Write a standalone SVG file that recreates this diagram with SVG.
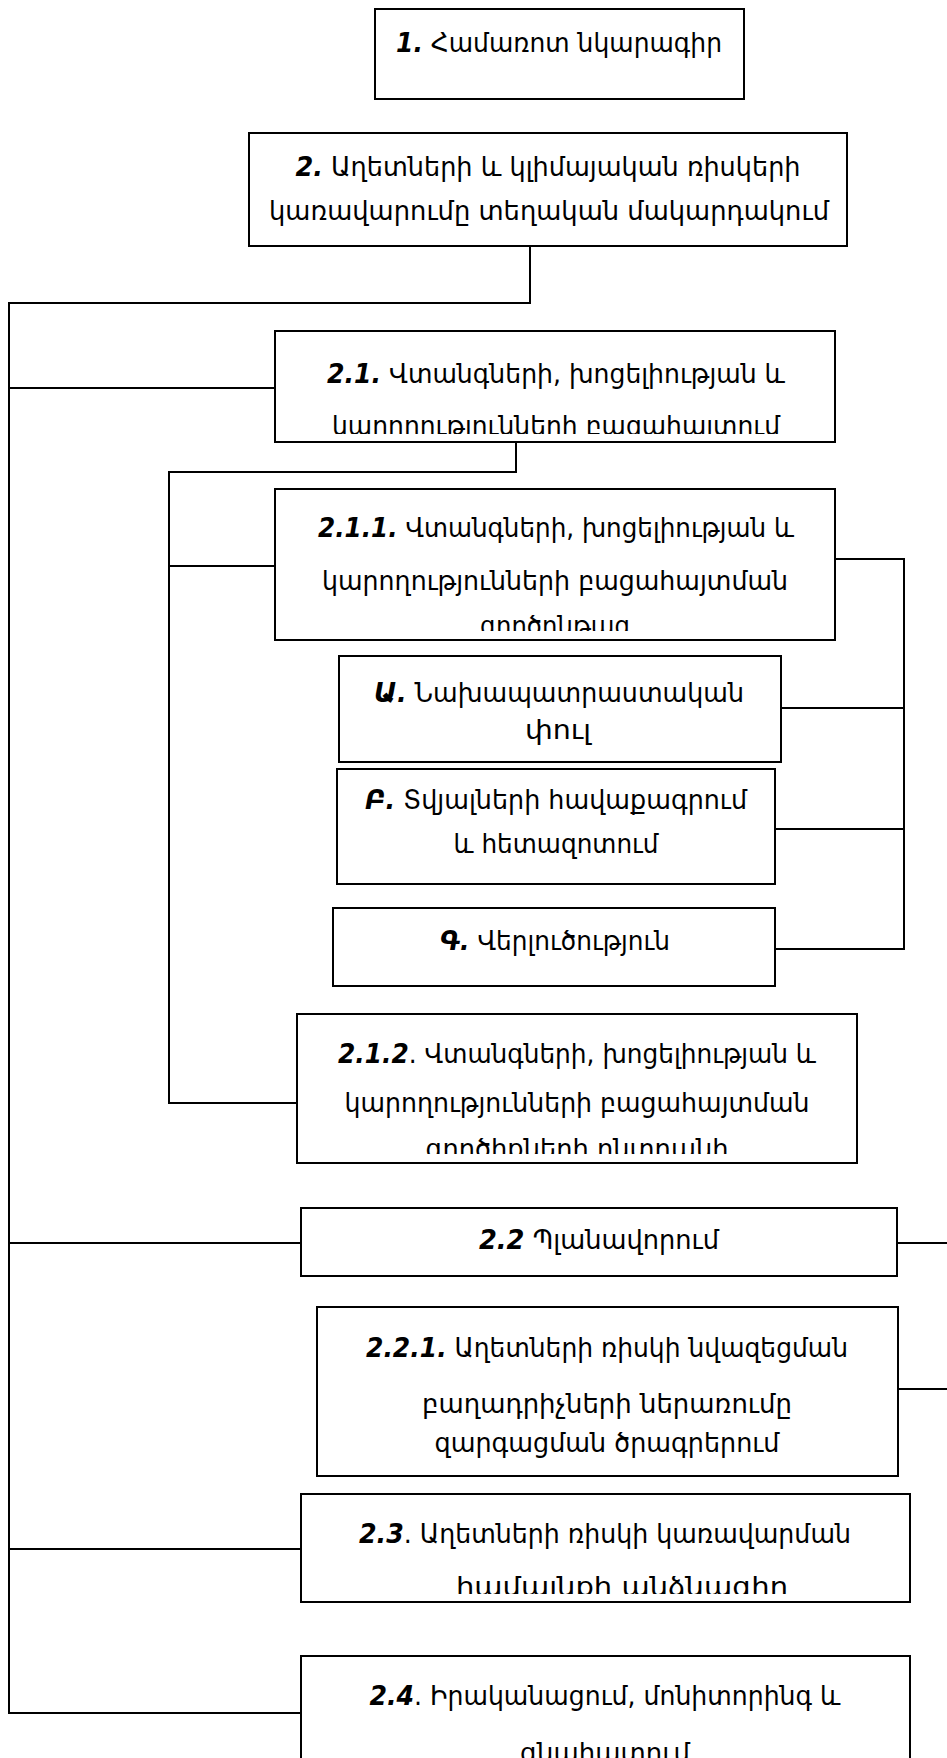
<svg xmlns="http://www.w3.org/2000/svg" width="947" height="1758" viewBox="0 0 947 1758">
<style>
.b{fill:#fff;stroke:#000;stroke-width:2}
.t{font-family:"DejaVu Sans",sans-serif;font-size:27px;fill:#000;text-anchor:middle}
.n{font-weight:bold;font-style:italic}
.c{fill:none;stroke:#000;stroke-width:2}
</style>
<defs>
<clipPath id="k21"><rect x="276" y="332" width="558" height="102"/></clipPath>
<clipPath id="k211"><rect x="276" y="490" width="558" height="141"/></clipPath>
<clipPath id="k212"><rect x="298" y="1015" width="558" height="139"/></clipPath>
<clipPath id="k23"><rect x="302" y="1495" width="607" height="99"/></clipPath>
</defs>
<rect width="947" height="1758" fill="#fff"/>
<g id="connectors">
<polyline class="c" points="530,246 530,303 9,303 9,1713 301,1713"/>
<line class="c" x1="9" y1="388" x2="275" y2="388"/>
<line class="c" x1="9" y1="1243" x2="301" y2="1243"/>
<line class="c" x1="9" y1="1549" x2="301" y2="1549"/>
<polyline class="c" points="516,442 516,472 169,472 169,1103 297,1103"/>
<line class="c" x1="169" y1="566" x2="275" y2="566"/>
<polyline class="c" points="835,559 904,559 904,949 775,949"/>
<line class="c" x1="781" y1="708" x2="904" y2="708"/>
<line class="c" x1="775" y1="829" x2="904" y2="829"/>
<line class="c" x1="897" y1="1243" x2="947" y2="1243"/>
<line class="c" x1="898" y1="1389" x2="947" y2="1389"/>
</g>
<g id="n1">
<rect class="b" x="375" y="9" width="369" height="90"/>
<text class="t" x="559" y="52" textLength="326" lengthAdjust="spacingAndGlyphs"><tspan class="n">1.</tspan> Համառոտ նկարագիր</text>
</g>
<g id="n2">
<rect class="b" x="249" y="133" width="598" height="113"/>
<text class="t" x="548" y="176" textLength="505" lengthAdjust="spacingAndGlyphs"><tspan class="n">2.</tspan> Աղետների և կլիմայական ռիսկերի</text>
<text class="t" x="549" y="220" textLength="560" lengthAdjust="spacingAndGlyphs">կառավարումը տեղական մակարդակում</text>
</g>
<g id="n2_1">
<rect class="b" x="275" y="331" width="560" height="111"/>
<g clip-path="url(#k21)">
<text class="t" x="556" y="383" textLength="458" lengthAdjust="spacingAndGlyphs"><tspan class="n">2.1.</tspan> Վտանգների, խոցելիության և</text>
<text class="t" x="556" y="435" textLength="448" lengthAdjust="spacingAndGlyphs">կարողությունների բացահայտում</text>
</g>
</g>
<g id="n2_1_1">
<rect class="b" x="275" y="489" width="560" height="151"/>
<g clip-path="url(#k211)">
<text class="t" x="556" y="537" textLength="476" lengthAdjust="spacingAndGlyphs"><tspan class="n">2.1.1.</tspan> Վտանգների, խոցելիության և</text>
<text class="t" x="555" y="590" textLength="466" lengthAdjust="spacingAndGlyphs">կարողությունների բացահայտման</text>
<text class="t" x="555" y="635" textLength="150" lengthAdjust="spacingAndGlyphs">գործընթաց</text>
</g>
</g>
<g id="nA">
<rect class="b" x="339" y="656" width="442" height="106"/>
<text class="t" x="559" y="702" textLength="370" lengthAdjust="spacingAndGlyphs"><tspan class="n">Ա.</tspan> Նախապատրաստական</text>
<text class="t" x="558" y="739" textLength="66" lengthAdjust="spacingAndGlyphs">փուլ</text>
</g>
<g id="nB">
<rect class="b" x="337" y="769" width="438" height="115"/>
<text class="t" x="556" y="809" textLength="382" lengthAdjust="spacingAndGlyphs"><tspan class="n">Բ.</tspan> Տվյալների հավաքագրում</text>
<text class="t" x="556" y="853" textLength="205" lengthAdjust="spacingAndGlyphs">և հետազոտում</text>
</g>
<g id="nG">
<rect class="b" x="333" y="908" width="442" height="78"/>
<text class="t" x="555" y="950" textLength="230" lengthAdjust="spacingAndGlyphs"><tspan class="n">Գ.</tspan> Վերլուծություն</text>
</g>
<g id="n2_1_2">
<rect class="b" x="297" y="1014" width="560" height="149"/>
<g clip-path="url(#k212)">
<text class="t" x="577" y="1063" textLength="478" lengthAdjust="spacingAndGlyphs"><tspan class="n">2.1.2</tspan>. Վտանգների, խոցելիության և</text>
<text class="t" x="577" y="1112" textLength="465" lengthAdjust="spacingAndGlyphs">կարողությունների բացահայտման</text>
<text class="t" x="577" y="1158" textLength="303" lengthAdjust="spacingAndGlyphs">գործիքների ընտրանի</text>
</g>
</g>
<g id="n2_2">
<rect class="b" x="301" y="1208" width="596" height="68"/>
<text class="t" x="599" y="1249" textLength="240" lengthAdjust="spacingAndGlyphs"><tspan class="n">2.2</tspan> Պլանավորում</text>
</g>
<g id="n2_2_1">
<rect class="b" x="317" y="1307" width="581" height="169"/>
<text class="t" x="607" y="1357" textLength="482" lengthAdjust="spacingAndGlyphs"><tspan class="n">2.2.1.</tspan> Աղետների ռիսկի նվազեցման</text>
<text class="t" x="607" y="1413" textLength="370" lengthAdjust="spacingAndGlyphs">բաղադրիչների ներառումը</text>
<text class="t" x="607" y="1452" textLength="345" lengthAdjust="spacingAndGlyphs">զարգացման ծրագրերում</text>
</g>
<g id="n2_3">
<rect class="b" x="301" y="1494" width="609" height="108"/>
<g clip-path="url(#k23)">
<text class="t" x="605" y="1543" textLength="492" lengthAdjust="spacingAndGlyphs"><tspan class="n">2.3</tspan>. Աղետների ռիսկի կառավարման</text>
<text class="t" x="622" y="1596" textLength="332" lengthAdjust="spacingAndGlyphs">համայնքի անձնագիր</text>
</g>
</g>
<g id="n2_4">
<rect class="b" x="301" y="1656" width="609" height="130"/>
<text class="t" x="605" y="1705" textLength="471" lengthAdjust="spacingAndGlyphs"><tspan class="n">2.4</tspan>. Իրականացում, մոնիտորինգ և</text>
<text class="t" x="605" y="1762" textLength="170" lengthAdjust="spacingAndGlyphs">գնահատում</text>
</g>
</svg>
